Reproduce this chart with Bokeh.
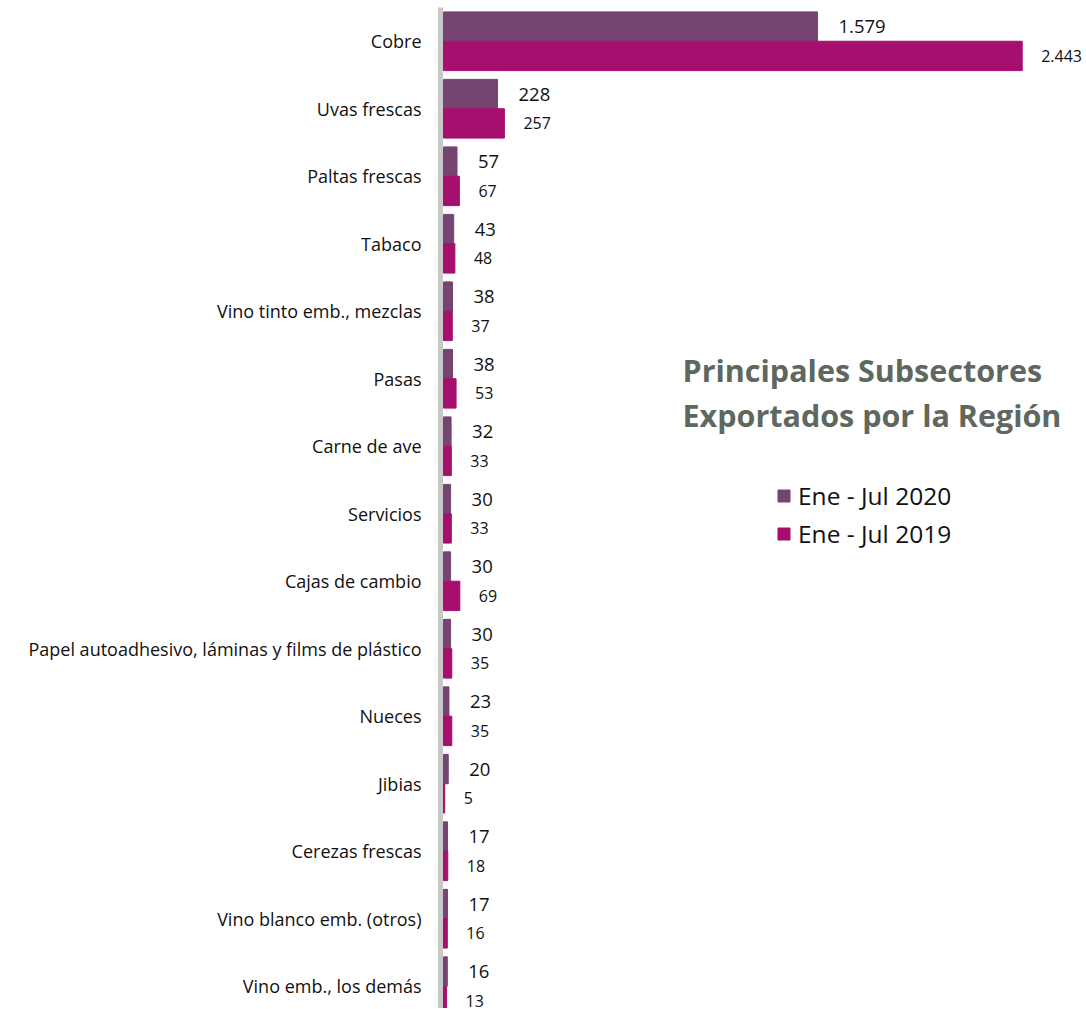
from bokeh.plotting import figure
from bokeh.models import ColumnDataSource, Range1d, FixedTicker, LabelSet, Label, Legend, LegendItem
from bokeh.core.properties import value
from bokeh.embed import file_html
from bokeh.resources import INLINE

categories = ["Cobre", "Uvas frescas", "Paltas frescas", "Tabaco", "Vino tinto emb., mezclas",
              "Pasas", "Carne de ave", "Servicios", "Cajas de cambio",
              "Papel autoadhesivo, láminas y films de plástico", "Nueces", "Jibias",
              "Cerezas frescas", "Vino blanco emb. (otros)", "Vino emb., los demás"]
v2020 = [1579, 228, 57, 43, 38, 38, 32, 30, 30, 30, 23, 20, 17, 17, 16]
v2019 = [2443, 257, 67, 48, 37, 53, 33, 33, 69, 35, 35, 5, 18, 16, 13]
series_names = ["Ene - Jul 2020", "Ene - Jul 2019"]
title_lines = ["Principales Subsectores", "Exportados por la Región"]

C2020 = "#754470"
C2019 = "#A60F6E"
FONT = "Open Sans"
BH = 0.435

def fmt(v):
    return f"{v:,}".replace(",", ".")

idx = list(range(len(categories)))
s20 = ColumnDataSource(dict(y=[i - BH / 2 for i in idx], v=v2020, lbl=[fmt(v) for v in v2020]))
s19 = ColumnDataSource(dict(y=[i + BH / 2 for i in idx], v=v2019, lbl=[fmt(v) for v in v2019]))

p = figure(width=1084, height=1008, output_backend="svg", toolbar_location=None,
           x_range=Range1d(-12.7, 2706), y_range=Range1d(14.33, -0.5),
           min_border_left=440, min_border_right=0, min_border_top=7, min_border_bottom=0)
p.outline_line_color = None
p.xgrid.visible = False
p.ygrid.visible = False
p.xaxis.visible = False

r1 = p.hbar(y="y", left=0, right="v", height=BH, source=s20, fill_color=C2020, line_color=C2020)
r2 = p.hbar(y="y", left=0, right="v", height=BH, source=s19, fill_color=C2019, line_color=C2019)

ax = p.yaxis[0]
ax.ticker = FixedTicker(ticks=idx)
ax.major_label_overrides = {i: c for i, c in enumerate(categories)}
ax.major_tick_line_color = None
ax.minor_tick_line_color = None
ax.axis_line_color = "#C8C8C8"
ax.axis_line_width = 5
ax.major_label_standoff = 13
ax.major_label_text_font = FONT
ax.major_label_text_font_size = "18px"
ax.major_label_text_color = "#111111"

p.add_layout(LabelSet(x="v", y="y", text="lbl", source=s20, x_offset=21,
                      text_baseline="middle", text_font=value(FONT), text_font_size=value("18.5px"),
                      text_color="#111111"))
p.add_layout(LabelSet(x="v", y="y", text="lbl", source=s19, x_offset=19,
                      text_baseline="middle", text_font=value(FONT), text_font_size=value("16px"),
                      text_color="#111111"))

for k, line in enumerate(title_lines):
    p.add_layout(Label(x=242, y=639 - 45 * k, x_units="screen", y_units="screen", text=line,
                       text_font=FONT, text_font_style="bold", text_font_size="30.5px",
                       text_color="#5E685E", text_baseline="middle"))

legend = Legend(items=[LegendItem(label=series_names[0], renderers=[r1]),
                       LegendItem(label=series_names[1], renderers=[r2])],
                location=(336, 458), orientation="vertical",
                label_text_font=FONT, label_text_font_size="24.5px", label_text_color="#111111",
                glyph_width=15, glyph_height=15, label_standoff=7, spacing=5,
                padding=0, margin=0, border_line_color=None, background_fill_alpha=0)
p.add_layout(legend)

open("out.html", "w").write(file_html(p, INLINE))
